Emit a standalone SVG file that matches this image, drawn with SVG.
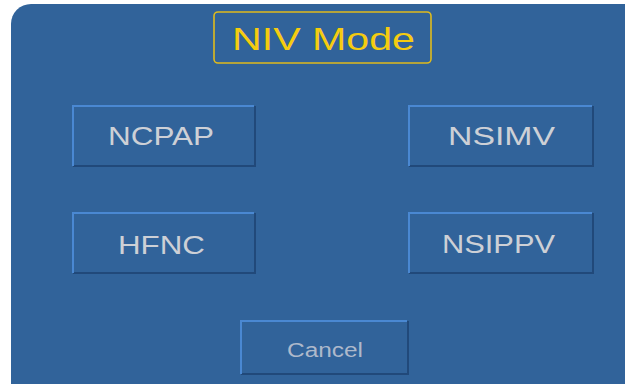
<svg xmlns="http://www.w3.org/2000/svg" width="625" height="384" viewBox="0 0 625 384">
  <style>
    .panel { fill: #31639a; }
    /* bevelled button frame: light top/left, dark bottom/right */
    .hi { fill: none; stroke: #4a88d2; stroke-width: 2; }
    .lo { fill: none; stroke: #21497a; stroke-width: 2; }
    .lbl { font-family: "Liberation Sans", Arial, sans-serif; fill: #cdd0d6; text-anchor: middle; }
    .big { font-size: 25px; }
    .small { font-size: 20px; fill: #aeb9cb; }
    .title { font-family: "Liberation Sans", Arial, sans-serif; font-size: 32px; fill: #f5cc10; text-anchor: middle; }
  </style>
  <rect width="625" height="384" fill="#ffffff"/>
  <rect class="panel" x="11" y="4" width="640" height="410" rx="20" ry="20"/>

  <g id="title">
    <rect x="214" y="12" width="217" height="51" rx="4" fill="none" stroke="#e0bb1c" stroke-width="1.6"/>
    <text class="title" x="323.5" y="50" textLength="183" lengthAdjust="spacingAndGlyphs">NIV Mode</text>
  </g>

  <g id="btn-ncpap">
    <path class="lo" d="M73 166 H255 V106"/>
    <path class="hi" d="M73 166 V106 H254"/>
    <text class="lbl big" x="161" y="145" textLength="106" lengthAdjust="spacingAndGlyphs">NCPAP</text>
  </g>

  <g id="btn-nsimv">
    <path class="lo" d="M409 166 H593 V106"/>
    <path class="hi" d="M409 166 V106 H592"/>
    <text class="lbl big" x="501.5" y="145" textLength="107" lengthAdjust="spacingAndGlyphs">NSIMV</text>
  </g>

  <g id="btn-hfnc">
    <path class="lo" d="M73 273 H255 V213"/>
    <path class="hi" d="M73 273 V213 H254"/>
    <text class="lbl big" x="161.5" y="254" textLength="87" lengthAdjust="spacingAndGlyphs">HFNC</text>
  </g>

  <g id="btn-nsippv">
    <path class="lo" d="M409 273 H593 V213"/>
    <path class="hi" d="M409 273 V213 H592"/>
    <text class="lbl big" x="498.5" y="253" textLength="113" lengthAdjust="spacingAndGlyphs">NSIPPV</text>
  </g>

  <g id="btn-cancel">
    <path class="lo" d="M241 374 H408 V321"/>
    <path class="hi" d="M241 374 V321 H407"/>
    <text class="lbl small" x="325" y="357" textLength="76" lengthAdjust="spacingAndGlyphs">Cancel</text>
  </g>
</svg>
